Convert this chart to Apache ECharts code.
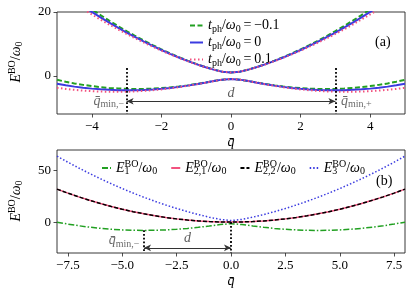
<!DOCTYPE html>
<html>
<head>
<meta charset="utf-8">
<script src="https://cdn.jsdelivr.net/npm/echarts@6/dist/echarts.min.js"></script>
<style>html,body{margin:0;padding:0;background:#fff}#c{width:412px;height:294px}</style>
</head>
<body>
<div id="c"></div>
<script>
// ---------- data ----------
const qTop = [-5,-4.75,-4.5,-4.25,-4,-3.75,-3.5,-3.25,-3,-2.75,-2.5,-2.25,-2,-1.75,-1.5,-1.25,-1,-0.75,-0.5,-0.25,0,0.25,0.5,0.75,1,1.25,1.5,1.75,2,2.25,2.5,2.75,3,3.25,3.5,3.75,4,4.25,4.5,4.75,5];
const lowerM = [-1.28,-1.87,-2.40,-2.86,-3.24,-3.56,-3.81,-3.99,-4.11,-4.15,-4.13,-4.04,-3.88,-3.66,-3.38,-3.02,-2.61,-2.15,-1.67,-1.22,-1.00,-1.22,-1.67,-2.15,-2.61,-3.02,-3.38,-3.66,-3.88,-4.04,-4.13,-4.15,-4.11,-3.99,-3.81,-3.56,-3.24,-2.86,-2.40,-1.87,-1.28];
const upperM = [28.78,26.70,24.67,22.72,20.84,19.03,17.28,15.61,14.01,12.47,11.00,9.61,8.28,7.03,5.85,4.74,3.71,2.77,1.94,1.28,1.00,1.28,1.94,2.77,3.71,4.74,5.85,7.03,8.28,9.61,11.00,12.47,14.01,15.61,17.28,19.03,20.84,22.72,24.67,26.70,28.78];
const lower0 = [-2.53,-3.00,-3.41,-3.76,-4.04,-4.26,-4.42,-4.52,-4.56,-4.53,-4.44,-4.29,-4.08,-3.81,-3.49,-3.10,-2.66,-2.18,-1.68,-1.22,-1.00,-1.22,-1.68,-2.18,-2.66,-3.10,-3.49,-3.81,-4.08,-4.29,-4.44,-4.53,-4.56,-4.52,-4.42,-4.26,-4.04,-3.76,-3.41,-3.00,-2.53];
const upper0 = [27.53,25.57,23.66,21.82,20.04,18.33,16.67,15.08,13.56,12.09,10.69,9.36,8.08,6.88,5.74,4.66,3.66,2.74,1.93,1.28,1.00,1.28,1.93,2.74,3.66,4.66,5.74,6.88,8.08,9.36,10.69,12.09,13.56,15.08,16.67,18.33,20.04,21.82,23.66,25.57,27.53];
const lowerP = [-3.78,-4.13,-4.42,-4.66,-4.84,-4.96,-5.03,-5.05,-5.01,-4.91,-4.75,-4.54,-4.28,-3.96,-3.60,-3.18,-2.71,-2.21,-1.69,-1.22,-1.00,-1.22,-1.69,-2.21,-2.71,-3.18,-3.60,-3.96,-4.28,-4.54,-4.75,-4.91,-5.01,-5.05,-5.03,-4.96,-4.84,-4.66,-4.42,-4.13,-3.78];
const upperP = [26.28,24.44,22.65,20.92,19.24,17.63,16.06,14.55,13.11,11.71,10.38,9.11,7.88,6.73,5.63,4.58,3.61,2.71,1.92,1.28,1.00,1.28,1.92,2.71,3.61,4.58,5.63,6.73,7.88,9.11,10.38,11.71,13.11,14.55,16.06,17.63,19.24,20.92,22.65,24.44,26.28];

const qBot = [-8,-7.5,-7,-6.5,-6,-5.5,-5,-4.5,-4,-3.5,-3,-2.5,-2,-1.5,-1,-0.5,0,0.5,1,1.5,2,2.5,3,3.5,4,4.5,5,5.5,6,6.5,7,7.5,8];
const e1 = [-0.04,-1.91,-3.54,-4.92,-6.05,-6.93,-7.56,-7.94,-8.07,-7.96,-7.59,-6.99,-6.14,-5.06,-3.77,-2.38,-1.5,-2.38,-3.77,-5.06,-6.14,-6.99,-7.59,-7.96,-8.07,-7.94,-7.56,-6.93,-6.05,-4.92,-3.54,-1.91,-0.04];
const e21 = [32,28.13,24.5,21.13,18,15.13,12.5,10.13,8,6.13,4.5,3.13,2,1.13,0.5,0.13,0,0.13,0.5,1.13,2,3.13,4.5,6.13,8,10.13,12.5,15.13,18,21.13,24.5,28.13,32];
const e22 = [32,28.13,24.5,21.13,18,15.13,12.5,10.13,8,6.13,4.5,3.13,2,1.13,0.5,0.13,0,0.13,0.5,1.13,2,3.13,4.5,6.13,8,10.13,12.5,15.13,18,21.13,24.5,28.13,32];
const e3 = [64.04,58.16,52.54,47.17,42.05,37.18,32.56,28.19,24.07,20.21,16.59,13.24,10.14,7.31,4.77,2.63,1.5,2.63,4.77,7.31,10.14,13.24,16.59,20.21,24.07,28.19,32.56,37.18,42.05,47.17,52.54,58.16,64.04];

const topXTicks = [-4,-2,0,2,4];
const topYTicks = [0,20];
const botXTicks = [-7.5,-5,-2.5,0,2.5,5,7.5];
const botYTicks = [0,50];

const qMinTop = [-3, 3];
const qMinBot = [-4, 0];

// ---------- styling ----------
const F = 'Liberation Serif';
const GREEN = '#22a022', BLUE = '#3b3be0', PINK = '#f2527f', BLACK = '#000';
function mkRich(c) {
  return {
    n: {fontFamily: F, fontSize: 14, color: c, lineHeight: 17},
    i: {fontFamily: F, fontSize: 14, fontStyle: 'italic', color: c, lineHeight: 17},
    sub: {fontFamily: F, fontSize: 10, color: c, lineHeight: 10, padding: [7, 0, 0, 0]},
    subz: {fontFamily: F, fontSize: 10, color: c, lineHeight: 10, padding: [7, 0, 0, 0], width: 0.01},
    sup: {fontFamily: F, fontSize: 10, color: c, lineHeight: 10, padding: [0, 0, 8, 0]}
  };
}
const rich = mkRich('#000');
const minus = v => (v < 0 ? '\u2212' : '') + Math.abs(v);
const minus1 = v => (v < 0 ? '\u2212' : '') + Math.abs(v).toFixed(1);
const pts = (xs, ys) => xs.map((x, i) => [x, ys[i]]);

const EQ = '\u2009=\u2009';
const legendTopText = {
  tm: '{i|t}{sub|ph}{n|/}{i|ω}{sub|0}{n|' + EQ + '\u22120.1}',
  t0: '{i|t}{sub|ph}{n|/}{i|ω}{sub|0}{n|' + EQ + '0}',
  tp: '{i|t}{sub|ph}{n|/}{i|ω}{sub|0}{n|' + EQ + '0.1}'
};
const legendBotText = {
  E1: '{i|E}{subz|1}{sup|BO}{n|/}{i|ω}{sub|0}',
  E21: '{i|E}{subz|2,1}{sup|BO}{n|/}{i|ω}{sub|0}',
  E22: '{i|E}{subz|2,2}{sup|BO}{n|/}{i|ω}{sub|0}',
  E3: '{i|E}{subz|3}{sup|BO}{n|/}{i|ω}{sub|0}'
};

function xAxisCfg(gi, min, max, ticks, fmt) {
  return {
    type: 'value', gridIndex: gi, min: min, max: max,
    name: '{i|q\u0304}', nameLocation: 'middle', nameGap: 20,
    nameTextStyle: {rich: rich},
    axisLine: {show: false, onZero: false},
    axisTick: {show: true, customValues: ticks, length: 3.5, lineStyle: {color: '#222', width: 0.8}},
    axisLabel: {customValues: ticks, formatter: fmt, fontFamily: F, fontSize: 13, color: '#000', margin: 6},
    splitLine: {show: false}
  };
}
function yAxisCfg(gi, min, max, ticks) {
  return {
    type: 'value', gridIndex: gi, min: min, max: max,
    axisLine: {show: false, onZero: false},
    axisTick: {show: true, customValues: ticks, length: 3.5, lineStyle: {color: '#222', width: 0.8}},
    axisLabel: {customValues: ticks, formatter: minus, fontFamily: F, fontSize: 13, color: '#000', margin: 6},
    splitLine: {show: false}
  };
}
function lineSeries(name, gi, xs, ys, color, width, type, z) {
  return {
    name: name, type: 'line', xAxisIndex: gi, yAxisIndex: gi,
    data: pts(xs, ys), symbol: 'none', showSymbol: false, clip: true, z: z,
    lineStyle: {color: color, width: width, type: type},
    itemStyle: {color: color}
  };
}
function labelPoint(gi, x, y, text, pos, dist, color) {
  return {
    type: 'scatter', xAxisIndex: gi, yAxisIndex: gi, silent: true,
    data: [[x, y]], symbolSize: 1, itemStyle: {color: 'rgba(0,0,0,0)'},
    label: {show: true, position: pos, distance: dist, formatter: text, rich: mkRich(color)}
  };
}
const dotLine = {color: '#000', width: 1.8, type: [1.8, 2]};
const arrowLine = {color: '#333', width: 1, type: 'solid'};

const option = {
  animation: false,
  grid: [
    {left: 57, top: 12, width: 348, height: 102, show: true, borderColor: '#222', borderWidth: 0.9},
    {left: 57, top: 150, width: 348, height: 103, show: true, borderColor: '#222', borderWidth: 0.9}
  ],
  xAxis: [xAxisCfg(0, -5, 5, topXTicks, minus), xAxisCfg(1, -8, 8, botXTicks, minus1)],
  yAxis: [yAxisCfg(0, -12, 20, topYTicks), yAxisCfg(1, -30, 70, botYTicks)],
  legend: [
    {
      orient: 'vertical', left: 184, top: 12, itemWidth: 13, itemHeight: 8, itemGap: 0,
      data: ['tm', 't0', 'tp'], selectedMode: false,
      itemStyle: {opacity: 0},
      formatter: n => legendTopText[n],
      textStyle: {rich: rich, lineHeight: 17}
    },
    {
      orient: 'horizontal', left: 96, top: 154, itemWidth: 9, itemHeight: 8, itemGap: 13,
      data: ['E1', 'E21', 'E22', 'E3'], selectedMode: false,
      itemStyle: {opacity: 0},
      formatter: n => legendBotText[n],
      textStyle: {rich: rich, lineHeight: 17}
    }
  ],
  graphic: [
    {type: 'text', left: 375, top: 35, style: {text: '(a)', font: '14px "Liberation Serif"', fill: '#000'}},
    {type: 'text', left: 376, top: 174, style: {text: '(b)', font: '14px "Liberation Serif"', fill: '#000'}},
    {type: 'text', x: 16, y: 62, rotation: Math.PI / 2,
      style: {text: '{i|E}{sup|BO}{n|/}{i|ω}{sub|0}', rich: rich, align: 'center', verticalAlign: 'middle'}},
    {type: 'text', x: 16, y: 201, rotation: Math.PI / 2,
      style: {text: '{i|E}{sup|BO}{n|/}{i|ω}{sub|0}', rich: rich, align: 'center', verticalAlign: 'middle'}}
  ],
  series: [
    lineSeries('tm', 0, qTop, lowerM, GREEN, 2, [5, 2.5], 2),
    lineSeries('tm', 0, qTop, upperM, GREEN, 2, [5, 2.5], 2),
    lineSeries('t0', 0, qTop, lower0, BLUE, 2, 'solid', 3),
    lineSeries('t0', 0, qTop, upper0, BLUE, 2, 'solid', 3),
    lineSeries('tp', 0, qTop, lowerP, PINK, 2, [1.5, 2.5], 4),
    lineSeries('tp', 0, qTop, upperP, PINK, 2, [1.5, 2.5], 4),
    {
      type: 'line', xAxisIndex: 0, yAxisIndex: 0, data: [], silent: true,
      markLine: {
        silent: true, symbol: ['none', 'none'], label: {show: false}, animation: false,
        data: [
          [{coord: [qMinTop[0], 2.4], lineStyle: dotLine}, {coord: [qMinTop[0], -12]}],
          [{coord: [qMinTop[1], 2.4], lineStyle: dotLine}, {coord: [qMinTop[1], -12]}],
          [{coord: [qMinTop[0], -8], symbol: 'arrow', symbolSize: [5, 7], lineStyle: arrowLine},
           {coord: [qMinTop[1], -8], symbol: 'arrow', symbolSize: [5, 7]}]
        ]
      }
    },
    labelPoint(0, qMinTop[0], -8, '{i|q\u0304}{sub|min,\u2212}', 'left', 2, '#444'),
    labelPoint(0, qMinTop[1], -8, '{i|q\u0304}{sub|min,+}', 'right', 5, '#444'),
    labelPoint(0, 0, -5.6, '{i|d}', 'inside', 0, '#333'),

    lineSeries('E1', 1, qBot, e1, GREEN, 1.5, [6, 2, 1.5, 2], 2),
    lineSeries('E21', 1, qBot, e21, PINK, 1.5, 'solid', 3),
    lineSeries('E22', 1, qBot, e22, BLACK, 1.5, [4, 2], 4),
    lineSeries('E3', 1, qBot, e3, BLUE, 1.5, [1.5, 2], 5),
    {
      type: 'line', xAxisIndex: 1, yAxisIndex: 1, data: [], silent: true,
      markLine: {
        silent: true, symbol: ['none', 'none'], label: {show: false}, animation: false,
        data: [
          [{coord: [qMinBot[0], -7.8], lineStyle: dotLine}, {coord: [qMinBot[0], -30]}],
          [{coord: [qMinBot[1], 0], lineStyle: dotLine}, {coord: [qMinBot[1], -30]}],
          [{coord: [qMinBot[0], -25], symbol: 'arrow', symbolSize: [5, 7], lineStyle: arrowLine},
           {coord: [qMinBot[1], -25], symbol: 'arrow', symbolSize: [5, 7]}]
        ]
      }
    },
    labelPoint(1, qMinBot[0], -18, '{i|q\u0304}{sub|min,\u2212}', 'left', 4, '#444'),
    labelPoint(1, -2, -15.4, '{i|d}', 'inside', 0, '#333')
  ]
};
const chart = echarts.init(document.getElementById('c'), null, {renderer: 'canvas'});
chart.setOption(option);
</script>
</body>
</html>
